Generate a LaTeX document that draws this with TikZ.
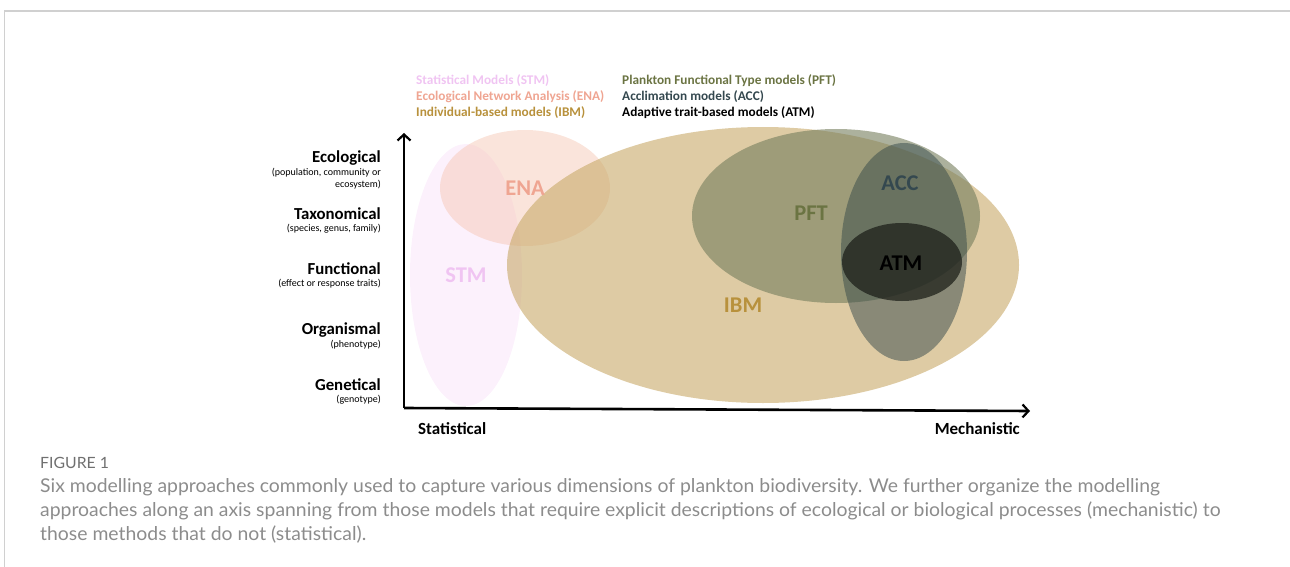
\documentclass[tikz,border=0pt]{standalone}
\usepackage{fontspec}
\setmainfont{Carlito}
\newfontfamily\capfont[FakeStretch=1.02]{Lato}
\usetikzlibrary{arrows.meta}
\definecolor{stmfill}{HTML}{F5D2F5}
\definecolor{enafill}{HTML}{F5C4B0}
\definecolor{ibmfill}{HTML}{C8A968}
\definecolor{pftfill}{HTML}{757D5C}
\definecolor{accfill}{HTML}{34494A}
\definecolor{atmfill}{HTML}{1E201A}
\definecolor{stmtxt}{HTML}{F0C4F2}
\definecolor{enatxt}{HTML}{EFA592}
\definecolor{ibmtxt}{HTML}{B8913C}
\definecolor{pfttxt}{HTML}{6B7443}
\definecolor{acctxt}{HTML}{34484F}
\definecolor{framegray}{HTML}{D0D0D0}
\definecolor{figgray}{HTML}{707070}
\definecolor{capgray}{HTML}{8C8C8C}
\tikzset{
  bigl/.style={font=\fontsize{16.8}{19}\selectfont\bfseries, anchor=east, inner sep=0pt},
  smalll/.style={font=\fontsize{10}{12}\selectfont, anchor=east, inner sep=0pt},
  legend/.style={font=\fontsize{13.3}{15}\selectfont\bfseries, anchor=west, inner sep=0pt},
  elab/.style={font=\fontsize{22.5}{25}\selectfont\bfseries, inner sep=0pt},
  axislab/.style={font=\fontsize{17}{19}\selectfont\bfseries, inner sep=0pt},
  axisarrow/.style={line width=2.6pt, -{Straight Barb[length=6pt,width=13pt,line width=2.2pt]}},
  captxt/.style={font=\capfont\fontsize{19}{21}\selectfont, text=capgray, anchor=west, inner sep=0pt},
}
\begin{document}
\begin{tikzpicture}[x=1pt,y=-1pt]
\useasboundingbox (0,0) rectangle (1290,567);
% frame
\draw[framegray, line width=1.6pt] (4,11) -- (1290,11);
\draw[framegray, line width=0.8pt] (4,11) -- (4,567);
% ellipses
\fill[stmfill, opacity=0.32] (466,275) ellipse [x radius=56pt, y radius=131pt];
\fill[enafill, opacity=0.45] (525,188) ellipse [x radius=85pt, y radius=58pt];
\fill[ibmfill, opacity=0.6] (763,265) ellipse [x radius=256pt, y radius=138pt];
\fill[pftfill, opacity=0.6] (836,216) ellipse [x radius=144pt, y radius=87pt];
\fill[accfill, opacity=0.5] (904,252) ellipse [x radius=63pt, y radius=109pt];
\fill[atmfill, opacity=0.75] (902,262) ellipse [x radius=60pt, y radius=39pt];
% ellipse labels
\node[elab, text=stmtxt] (stm) at (466,275) {STM};
\node[elab, text=enatxt] (ena) at (525,188) {ENA};
\node[elab, text=ibmtxt] (ibm) at (743,305) {IBM};
\node[elab, text=pfttxt] (pft) at (811,213) {PFT};
\node[elab, text=acctxt] (acc) at (900,183) {ACC};
\node[elab, text=black] (atm) at (901,263) {ATM};
% axes
\coordinate (origin) at (404,408);
\coordinate (ytop) at (404,133);
\coordinate (xend) at (1030,411);
\draw[axisarrow] (origin) -- (ytop);
\draw[axisarrow] (origin) -- (xend);
\node[axislab, anchor=west] (stat) at (418,429) {Statistical};
\node[axislab, anchor=east] (mech) at (1020,429) {Mechanistic};
% left labels
\node[bigl] (eco) at (381,158) {Ecological};
\node[smalll] (eco1) at (381,173) {(population, community or};
\node[smalll] (eco2) at (381,185) {ecosystem)};
\node[bigl] (tax) at (381,214) {Taxonomical};
\node[smalll] (tax1) at (381,229) {(species, genus, family)};
\node[bigl] (fun) at (381,269) {Functional};
\node[smalll] (fun1) at (381,284) {(effect or response traits)};
\node[bigl] (org) at (381,330) {Organismal};
\node[smalll] (org1) at (381,345) {(phenotype)};
\node[bigl] (gen) at (381,385) {Genetical};
\node[smalll] (gen1) at (381,400) {(genotype)};
% legend
\node[legend, text=stmtxt] (l1) at (416,81) {Statistical Models (STM)};
\node[legend, text=enatxt] (l2) at (416,97) {Ecological Network Analysis (ENA)};
\node[legend, text=ibmtxt] (l3) at (416,113) {Individual-based models (IBM)};
\node[legend, text=pfttxt] (l4) at (622,81) {Plankton Functional Type models (PFT)};
\node[legend, text=acctxt] (l5) at (622,97) {Acclimation models (ACC)};
\node[legend, text=black] (l6) at (622,113) {Adaptive trait-based models (ATM)};
% caption
\node[font=\capfont\fontsize{15.5}{17}\selectfont, text=figgray, anchor=west, inner sep=0pt] (fig) at (40,463) {FIGURE 1};
\node[captxt] (c1) at (40,487) {Six modelling approaches commonly used to capture various dimensions of plankton biodiversity. We further organize the modelling};
\node[captxt] (c2) at (40,511) {approaches along an axis spanning from those models that require explicit descriptions of ecological or biological processes (mechanistic) to};
\node[captxt] (c3) at (40,535) {those methods that do not (statistical).};
\end{tikzpicture}
\end{document}
